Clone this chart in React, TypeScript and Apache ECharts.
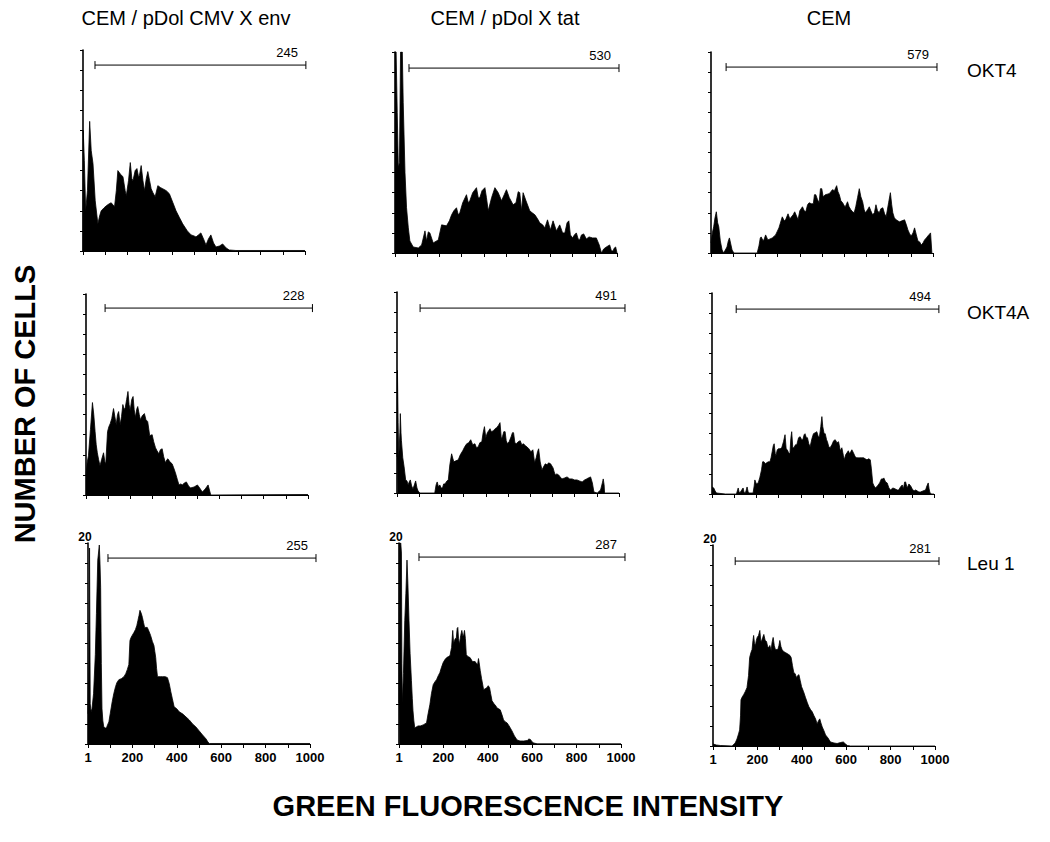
import React, { useEffect, useRef } from "react";
import * as echarts from "echarts";

// ---- DATA ----
const columnTitles = ["CEM / pDol CMV X env", "CEM / pDol X tat", "CEM"];
const rowLabels = ["OKT4", "OKT4A", "Leu 1"];
const xTickLabels: Record<number, string> = { 0: "1", 200: "200", 400: "400", 600: "600", 800: "800", 1000: "1000" };
const yTopLabel = "20";

// gate bracket: [start channel, end channel, level, count label]
const gates: [number, number, number, string][] = [
  [54, 1004, 18.5, "245"],
  [63, 1009, 18.4, "530"],
  [68, 1018, 18.5, "579"],
  [86, 1020, 18.6, "228"],
  [104, 1027, 18.4, "491"],
  [109, 1022, 18.4, "494"],
  [90, 1027, 18.5, "255"],
  [90, 1018, 18.6, "287"],
  [100, 1018, 18.4, "281"],
];

const envOKT4 = [[0,0],[1,12],[6,9],[12,4],[20,6],[30,12.9],[37,10],[45,8.7],[55,5],[67,2.7],[75,3.5],[82,4],[95,4.3],[105,4.5],[118,4.7],[127,4.8],[142,4.4],[150,6],[157,8],[170,7.6],[180,7.4],[190,6],[195,5.5],[205,7],[213,8.8],[220,7.2],[225,7],[235,8],[243,8.2],[250,7.4],[254,7.5],[262,8.5],[270,7],[277,6],[285,7.2],[292,7.9],[300,7],[307,6.2],[315,5.8],[325,5.4],[337,6.5],[350,6.3],[359,6.2],[375,6],[389,5.7],[405,4.8],[419,4],[435,3.3],[449,2.7],[470,2],[487,1.6],[500,1.5],[509,1.4],[520,1.6],[531,1.8],[543,1.2],[554,0.6],[565,1.2],[576,1.6],[588,0.8],[599,0.4],[615,0.5],[629,0.7],[645,0.3],[659,0.1],[689,0.05],[1000,0.05]];
const tatOKT4 = [[0,20],[5,20],[10,14],[15,8.5],[20,9],[25,20],[33,20],[37,15],[45,8],[52,4.5],[60,2.5],[67,1.2],[82,0.6],[105,0.5],[120,0.8],[135,2.2],[142,1.2],[150,2.1],[157,2],[172,1],[195,1.3],[210,2.8],[232,2.7],[245,3.2],[255,3.8],[265,4.2],[277,4.5],[285,3.8],[292,4],[305,5],[322,5.8],[330,5],[337,5.2],[350,6],[367,6.5],[375,5.5],[382,5.5],[392,6.2],[405,6.5],[412,5.5],[420,4.2],[435,5.5],[450,6.5],[465,6],[480,5.2],[492,5.8],[502,6.3],[515,5.5],[532,4.8],[545,5],[555,6.1],[562,6],[570,4.2],[577,6],[590,5.2],[607,4.2],[618,4],[630,3.8],[642,3.4],[652,3],[665,2.8],[675,2.5],[687,3.3],[700,2.3],[712,3.2],[727,2.2],[742,2.8],[755,2],[765,2],[775,3],[783,3.2],[790,1.8],[800,1.5],[808,1.8],[817,2],[825,1.4],[832,1.3],[840,1.8],[850,1.9],[862,1.4],[874,1.6],[890,1.5],[907,1.5],[920,0.8],[930,0],[940,0.4],[952,0.6],[967,0.8],[975,0.2],[982,0.2],[988,0.5],[994,0.6],[1000,0]];
const cemOKT4 = [[0,1],[6,2],[12,2.6],[18,3.5],[24,4.1],[30,3],[35,2.6],[42,1.2],[50,0.3],[57,0],[72,0.6],[78,1.2],[83,1.5],[90,0.8],[95,0.3],[103,0],[208,0],[216,0.7],[222,1.5],[226,1.6],[235,1.2],[240,1.4],[246,1.8],[256,1.3],[276,1.5],[291,1.8],[306,2.5],[321,3.6],[330,3.2],[336,3.3],[347,3.9],[355,3.4],[359,3.5],[370,3.8],[377,4.1],[385,3.7],[392,3.3],[400,4.2],[412,4.6],[420,4.2],[427,4.1],[435,4.8],[442,5],[452,4.9],[461,4.9],[466,5.8],[472,5.8],[480,5.3],[487,5],[493,6.4],[499,6.4],[505,5.6],[515,5.8],[532,5.9],[540,6.1],[547,6.3],[556,6.2],[566,6.7],[572,6.1],[578,5.8],[585,5.2],[593,5],[600,4.7],[605,4.6],[615,5.1],[622,4.6],[630,4.3],[638,4.1],[645,4],[652,4.6],[660,5.5],[668,6.4],[675,5.6],[683,5.1],[690,4.3],[695,4],[705,4.3],[713,4.6],[720,4.2],[728,3.8],[736,4],[743,4.8],[750,4.2],[758,4],[765,4.4],[774,4.5],[782,3.9],[789,3.6],[800,5],[808,6],[814,4.8],[819,4],[826,3.5],[834,3.3],[849,3.1],[860,3.2],[872,3.3],[880,2.8],[887,2.3],[895,1.9],[902,1.7],[910,2],[917,2.5],[925,1.8],[932,1.2],[940,1.1],[947,0.8],[955,1],[962,1.3],[970,1.5],[977,1.7],[989,2],[995,0]];
const envOKT4A = [[0,1.9],[5,3.2],[11,3.9],[20,6.5],[29,9.2],[35,8],[41,6.3],[46,5],[51,4.2],[57,3.5],[63,2.9],[70,3.5],[79,4.2],[85,3.3],[89,3.1],[97,6.3],[103,6.8],[109,7.1],[116,7.6],[124,8.6],[130,7.8],[136,7],[142,8],[147,8.3],[154,7],[160,7.8],[166,9],[172,8.5],[177,8.7],[183,9.5],[189,10.3],[194,9],[199,8.4],[206,9.5],[212,9.8],[217,8.5],[222,7.7],[228,8.5],[233,8.8],[240,8],[245,7.5],[254,7.9],[263,8.1],[270,7.5],[278,7.3],[287,5.9],[298,6],[305,5.3],[313,4.7],[320,4.4],[328,4.1],[335,4.5],[343,4.6],[350,3.8],[358,3.2],[364,3.5],[369,3.6],[378,3.3],[388,3.1],[395,2.7],[403,2.2],[412,1.5],[419,1],[427,1.1],[434,1],[443,1.2],[452,1.3],[462,0.9],[471,0.7],[487,0.8],[502,1],[512,0.7],[524,0.3],[537,0.6],[550,1],[556,0.5],[562,0],[1000,0.05]];
const tatOKT4A = [[0,3.6],[2,12.2],[5,7],[8,3.6],[13,6],[15,7.9],[18,6],[20,5.2],[26,3.5],[32,2.6],[39,1.3],[45,1.2],[50,0.8],[55,1.1],[60,1.3],[66,0.7],[72,0.4],[78,0.8],[84,1.2],[90,0.5],[95,0.2],[103,0],[170,0],[176,0.8],[181,1.1],[187,0.6],[193,0.8],[199,0.5],[205,0.5],[210,0.9],[216,0.9],[225,1.2],[231,1.3],[238,2.8],[246,3.9],[252,3.4],[256,3.1],[265,3.2],[276,3.3],[285,3.8],[296,4.2],[305,4.6],[314,4.9],[323,5],[332,5.3],[341,4.8],[351,4.9],[358,4.5],[366,4.6],[373,5],[382,5.1],[388,6],[394,6.6],[400,5.5],[407,6],[413,6.2],[419,6.4],[425,6.1],[434,6.2],[442,6.4],[449,6.5],[456,6.7],[464,7],[470,5.4],[475,5.6],[481,6.1],[487,6.1],[492,5.2],[498,4.9],[505,5.1],[514,5.6],[520,6],[525,6],[531,5],[537,4.9],[546,5.1],[555,5.2],[562,4.8],[570,4.9],[578,4.7],[585,4.6],[594,4.4],[603,4.1],[612,4.3],[620,3],[627,3.5],[633,4.1],[638,4.4],[645,3.1],[653,2.3],[660,2.6],[668,2.9],[676,2.8],[683,3],[692,2.9],[703,2.5],[708,2.1],[713,1.8],[720,1.9],[728,1.8],[735,1.6],[743,1.4],[755,1.5],[766,1.6],[778,1.4],[789,1.4],[800,1.3],[811,1.3],[822,1.2],[834,1.1],[845,1.3],[854,1.4],[862,1.5],[872,1.6],[880,1],[887,0.1],[902,0],[917,0.3],[925,1],[929,1.4],[933,0.8],[935,0],[1000,0]];
const cemOKT4A = [[0,0.7],[8,0.6],[14,0.3],[20,0.1],[60,0],[110,0],[114,0.3],[118,0.6],[122,0.2],[125,0.1],[140,0.6],[145,0.1],[152,0.2],[158,0.7],[163,0.2],[167,0.1],[185,0.1],[190,0.8],[193,1.4],[200,1],[208,1.1],[215,1.6],[223,2.4],[228,3.2],[234,3.2],[240,3],[246,3.1],[253,3.2],[261,3.2],[266,3.6],[271,4.2],[276,4.8],[280,5],[285,4],[288,3.8],[294,4.4],[299,4.5],[307,4.5],[314,4.6],[322,5.2],[329,5.9],[334,4.5],[339,4.4],[345,4.1],[351,4],[355,5.5],[359,6.2],[364,4.6],[369,4.6],[376,4.9],[382,4.9],[390,5.6],[397,5.7],[404,5.4],[409,5.4],[415,5.9],[419,6],[425,5.6],[430,5.6],[436,5],[442,4.7],[450,5.5],[457,6],[465,6.1],[472,6.2],[479,5.7],[484,5.7],[490,6.7],[495,7.7],[499,6.7],[505,6],[510,6],[516,5.4],[520,5.2],[526,4.7],[532,4.6],[540,4.9],[548,5.3],[555,5.4],[563,5.1],[570,5.2],[578,4.3],[585,4.6],[592,3.8],[596,3.4],[602,3.9],[608,4.1],[614,4.3],[620,4],[625,4.2],[630,4.4],[637,4.1],[645,3.7],[652,3.6],[660,3.6],[665,3.6],[675,3.6],[683,3.6],[690,3.5],[698,3.4],[706,3.5],[713,3.4],[718,2.5],[724,1.1],[730,0.8],[736,0.6],[745,0.8],[755,1.1],[763,1.5],[770,1.5],[774,1.6],[782,1.2],[789,1.1],[797,0.6],[804,0.4],[815,0.6],[826,0.5],[834,0.4],[841,0.4],[849,0.7],[857,0.9],[862,0.5],[868,1.2],[872,1.2],[879,0.6],[887,1],[895,0.8],[902,0.5],[910,0.3],[917,0.4],[925,0.3],[932,0.2],[939,0.2],[950,0.3],[962,0.4],[968,0.8],[974,1.1],[978,0.5],[982,0.1],[990,0],[1000,0]];
const envLeu1 = [[0,3],[4,8],[7,19.5],[10,4],[14,3.2],[18,3.5],[25,5],[33,8.9],[38,13],[44,18.3],[51,19.8],[54,18],[57,15.6],[60,8],[63,3.5],[67,2.3],[71,1.7],[78,1.6],[83,1.6],[88,1.9],[94,2.2],[100,3],[109,4.2],[116,5],[124,5.7],[130,6.1],[139,6.4],[150,6.5],[162,6.7],[170,7],[177,7.4],[184,7.9],[189,10.3],[194,10.6],[199,10.8],[207,11.1],[214,11.4],[220,11.8],[225,12.3],[230,12.8],[234,13.3],[240,13],[245,12.6],[250,12.1],[255,11.6],[261,11.6],[267,11.6],[275,11.2],[282,10.8],[290,10.2],[297,9.8],[301,9.2],[305,8.6],[309,7.5],[313,6.7],[325,6.7],[335,6.7],[348,6.7],[358,6.6],[366,6],[373,5.2],[380,4.5],[388,3.7],[400,3.5],[411,3.2],[426,3],[441,2.7],[456,2.4],[471,2],[486,1.7],[501,1.3],[516,0.9],[532,0.5],[540,0.2],[547,0.05],[1000,0.05]];
const tatLeu1 = [[0,4.1],[2,20],[8,20],[11,19],[13,8],[15,4.1],[20,7],[26,12.3],[31,15],[36,18.3],[40,16],[45,12.3],[50,9],[56,6.3],[60,4.5],[63,3.3],[67,2.3],[71,1.6],[78,1.7],[86,1.8],[96,1.8],[109,1.9],[116,2],[124,2.1],[131,3],[139,3.9],[146,5],[154,5.9],[162,6.2],[169,6.4],[177,6.8],[184,7.1],[191,7.6],[199,8.1],[207,8.4],[215,8.6],[223,8.7],[230,8.8],[234,9.3],[237,9.6],[242,11.3],[246,10],[250,10.3],[254,10.5],[258,10.5],[262,11.5],[265,11.6],[268,10.5],[272,9.9],[278,10.8],[283,11.3],[287,10.8],[291,10.8],[295,11.3],[299,10.5],[303,8.9],[310,8.7],[320,8.6],[331,8.2],[343,8.2],[349,8],[354,7.9],[358,8.5],[361,8.1],[366,7.3],[372,6.5],[378,5.8],[381,5.4],[388,5.5],[396,5.6],[402,5.8],[408,5.6],[413,5],[419,4.3],[428,4],[436,3.8],[441,3.6],[449,3.5],[456,3.4],[464,2.9],[471,2.4],[479,2.2],[487,2.1],[496,1.8],[509,1.3],[520,0.8],[532,0.4],[545,0.3],[562,0.3],[578,0.35],[585,0.5],[592,0.45],[600,0.2],[607,0.1],[622,0.02],[1000,0.02]];
const cemLeu1 = [[0,0.2],[15,0.1],[33,0.05],[86,0],[100,0.3],[108,0.7],[115,1.2],[120,1.6],[124,3],[126,4.6],[132,4.9],[138,5.1],[145,5.4],[153,5.8],[160,7],[165,8.8],[171,9.3],[176,9.6],[180,10.5],[183,11],[187,10.2],[191,10],[195,10.5],[199,10.8],[205,11],[211,11.5],[215,10.5],[218,10.4],[224,10.8],[229,11.1],[235,10.5],[241,10.4],[246,9.9],[251,9.8],[256,10],[262,9.5],[266,10.3],[271,10.8],[276,10],[281,9.6],[286,9.6],[292,9.6],[297,10],[301,10.5],[306,9.9],[311,9.6],[318,9.4],[326,9.3],[334,9.2],[341,9.1],[347,9],[352,8.8],[358,8],[364,7.3],[370,7.2],[376,6.8],[381,7],[387,7.1],[393,6.5],[399,5.9],[408,5.4],[417,4.8],[425,4.3],[432,3.9],[440,3.6],[447,3.4],[455,3],[462,2.7],[469,2.2],[475,2.5],[481,2.7],[486,2.3],[492,1.9],[500,1.5],[507,1.1],[518,0.8],[529,0.4],[545,0.3],[559,0.25],[575,0.35],[587,0.4],[597,0.2],[605,0.05],[620,0],[1000,0]];

const histograms = [envOKT4, tatOKT4, cemOKT4, envOKT4A, tatOKT4A, cemOKT4A, envLeu1, tatLeu1, cemLeu1];

// ---- LAYOUT (pixels) ----
const panelLeft = [83, 395, 711, 86, 397, 712, 88, 399, 713];
const panelTop = [50, 52, 52, 294, 292, 293, 543, 543, 545];
const panelWidth = 222;
const panelHeight = 201;
const FONT = '"Liberation Sans", Arial, Helvetica, sans-serif';

export default function App() {
  const ref = useRef<HTMLDivElement>(null);
  useEffect(() => {
    if (!ref.current) return;
    const chart = echarts.init(ref.current, undefined, { renderer: "svg" });
    const grids: any[] = [];
    const xAxes: any[] = [];
    const yAxes: any[] = [];
    const series: any[] = [];
    for (let i = 0; i < 9; i++) {
      const bottomRow = i >= 6;
      grids.push({ left: panelLeft[i], top: panelTop[i], width: panelWidth, height: panelHeight, containLabel: false });
      xAxes.push({
        gridIndex: i, type: "value", min: 0, max: 1000, interval: 100,
        axisLine: { show: true, lineStyle: { color: "#000", width: 1 } },
        axisTick: { show: true, length: 4, inside: false, lineStyle: { color: "#000", width: 1 } },
        splitLine: { show: false },
        axisLabel: {
          show: bottomRow, margin: 7, color: "#000", fontFamily: FONT, fontSize: 13, fontWeight: "bold",
          formatter: (v: number) => xTickLabels[v] ?? "",
        },
      });
      yAxes.push({
        gridIndex: i, type: "value", min: 0, max: 20, interval: 2,
        axisLine: { show: true, lineStyle: { color: "#000", width: 1.6 } },
        axisTick: { show: true, length: 3, inside: false, lineStyle: { color: "#000", width: 1 } },
        splitLine: { show: false },
        axisLabel: {
          show: bottomRow, margin: 3, color: "#000", fontFamily: FONT, fontSize: 12, fontWeight: "bold",
          verticalAlign: "bottom", align: "center",
          formatter: (v: number) => (v === 20 ? yTopLabel : ""),
        },
      });
      series.push({
        type: "line", xAxisIndex: i, yAxisIndex: i, data: histograms[i],
        symbol: "none", showSymbol: false, smooth: false,
        lineStyle: { color: "#000", width: 0.8 },
        areaStyle: { color: "#000", opacity: 1 },
        silent: true,
      });
      series.push({
        type: "custom", xAxisIndex: i, yAxisIndex: i, clip: false,
        data: [gates[i]],
        encode: { x: [0, 1], y: 2 },
        renderItem: (params: any, api: any) => {
          const a = api.coord([api.value(0), api.value(2)]);
          const b = api.coord([api.value(1), api.value(2)]);
          const label = gates[i][3];
          const ls = { stroke: "#000", lineWidth: 1 };
          return {
            type: "group",
            children: [
              { type: "line", shape: { x1: a[0], y1: a[1], x2: b[0], y2: b[1] }, style: ls },
              { type: "line", shape: { x1: a[0], y1: a[1] - 4, x2: a[0], y2: a[1] + 4 }, style: ls },
              { type: "line", shape: { x1: b[0], y1: b[1] - 4, x2: b[0], y2: b[1] + 4 }, style: ls },
              { type: "text", style: { text: label, x: b[0] - 8, y: b[1] - 6, align: "right", verticalAlign: "bottom", fill: "#000", fontFamily: FONT, fontSize: 13 } },
            ],
          };
        },
      });
    }

    const colCenters = [186, 505, 829];
    const rowLabelY = [70, 312, 563];
    const graphic: any[] = [];
    columnTitles.forEach((t, k) => {
      graphic.push({ type: "text", x: colCenters[k], y: 18, style: { text: t, align: "center", verticalAlign: "middle", fill: "#000", fontFamily: FONT, fontSize: 20 } });
    });
    rowLabels.forEach((t, k) => {
      graphic.push({ type: "text", x: 967, y: rowLabelY[k], style: { text: t, align: "left", verticalAlign: "middle", fill: "#000", fontFamily: FONT, fontSize: 19 } });
    });
    graphic.push({ type: "text", x: 25, y: 404, rotation: Math.PI / 2, style: { text: "NUMBER OF CELLS", align: "center", verticalAlign: "middle", fill: "#000", fontFamily: FONT, fontSize: 29, fontWeight: "bold" } });
    graphic.push({ type: "text", x: 528, y: 806, style: { text: "GREEN FLUORESCENCE INTENSITY", align: "center", verticalAlign: "middle", fill: "#000", fontFamily: FONT, fontSize: 29, fontWeight: "bold" } });

    chart.setOption({
      animation: false,
      backgroundColor: "#fff",
      grid: grids,
      xAxis: xAxes,
      yAxis: yAxes,
      series,
      graphic,
    });
    return () => chart.dispose();
  }, []);
  return <div ref={ref} style={{ position: "absolute", left: 0, top: 0, width: 1050, height: 842 }} />;
}
